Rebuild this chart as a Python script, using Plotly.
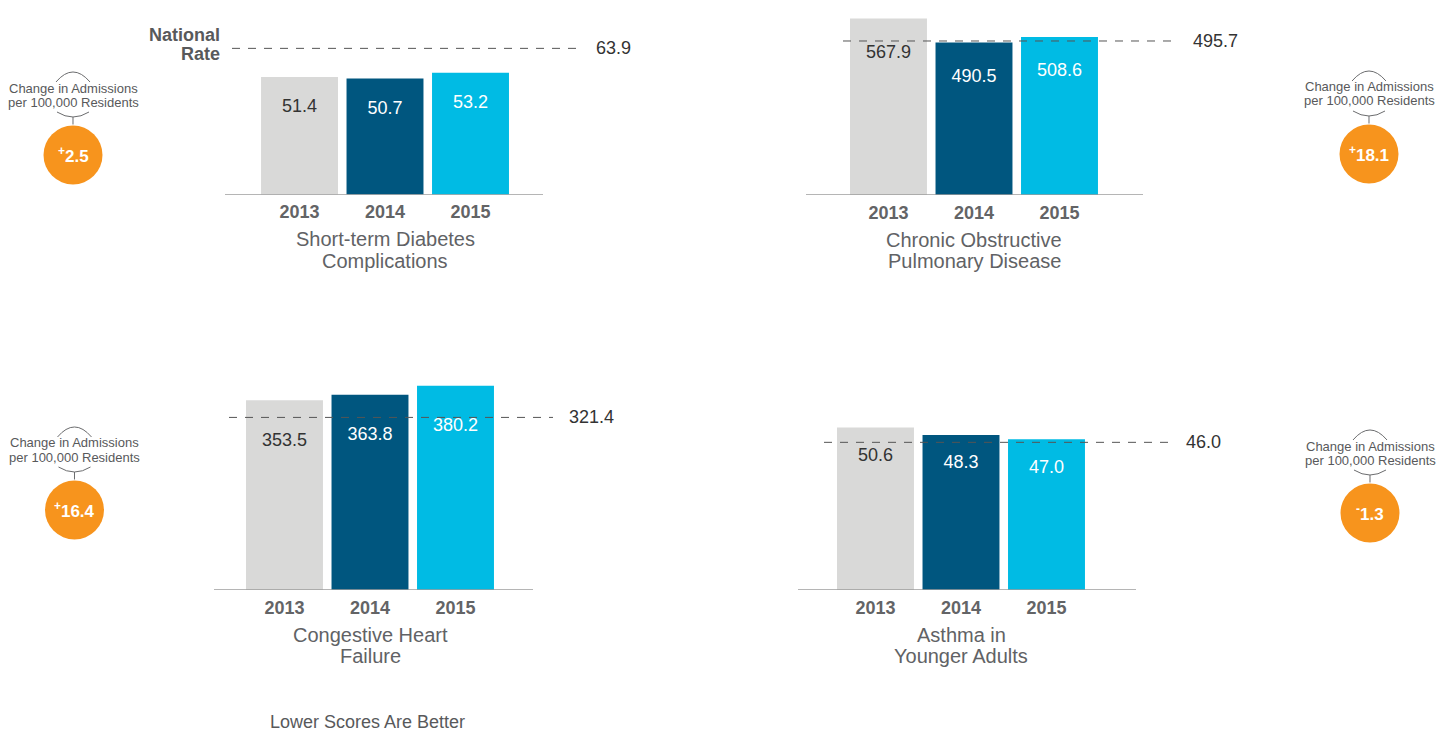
import plotly.graph_objects as go

# ---- data -------------------------------------------------------------
years = ["2013", "2014", "2015"]
measure_titles = [
    ("Short-term Diabetes", "Complications"),
    ("Chronic Obstructive", "Pulmonary Disease"),
    ("Congestive Heart", "Failure"),
    ("Asthma in", "Younger Adults"),
]
rates_diabetes = [51.4, 50.7, 53.2]
rates_copd = [567.9, 490.5, 508.6]
rates_chf = [353.5, 363.8, 380.2]
rates_asthma = [50.6, 48.3, 47.0]
national_rates = [63.9, 495.7, 321.4, 46.0]
series = [rates_diabetes, rates_copd, rates_chf, rates_asthma]

# ---- styling -----------------------------------------------------------
W, H = 1444, 732
FONT = "Liberation Sans, Arial, Helvetica, sans-serif"
BAR_COLORS = ["#d9d9d8", "#00567f", "#00bbe4"]
VALUE_COLORS = ["#333333", "#ffffff", "#ffffff"]
TEXT_GRAY = "#58595b"
YEAR_GRAY = "#636466"
TITLE_GRAY = "#616265"
ORANGE = "#f7941d"
STEP = 85.5  # pixels between bar centres

# panel geometry in pixels: centre of first bar, baseline, pixels per unit,
# baseline extent, national-rate line extent, label offset, badge centre
panels = [
    dict(c0=299.5, base=194.7, scale=2.29, axis=(225, 543), dash=(232, 580),
         top=2, text_off=31, badge=(73, 155)),
    dict(c0=888.5, base=195.0, scale=0.3107, axis=(806, 1143), dash=(843, 1177),
         top=2, text_off=35, badge=(1369, 154)),
    dict(c0=284.5, base=590.0, scale=0.537, axis=(214, 533), dash=(229, 553),
         top=330, text_off=41, badge=(74.5, 510)),
    dict(c0=875.5, base=590.0, scale=3.21, axis=(798, 1136), dash=(824, 1170),
         top=330, text_off=29, badge=(1370, 513)),
]


def px_x(x):
    return x / W


def px_y(y):
    return 1 - y / H


fig = go.Figure()
layout = dict(
    width=W, height=H, margin=dict(l=0, r=0, t=0, b=0),
    paper_bgcolor="white", plot_bgcolor="white", showlegend=False,
    font=dict(family=FONT, color=TEXT_GRAY, size=14),
)
shapes, annotations = [], []

for i, (p, vals, nat, title) in enumerate(zip(panels, series, national_rates, measure_titles)):
    k = "" if i == 0 else str(i + 1)
    xref, yref = "x" + k, "y" + k
    L, R = p["axis"][0], p["dash"][1] + 80
    to_x = lambda px, p=p: (px - p["c0"]) / STEP

    layout["xaxis" + k] = dict(
        domain=[px_x(L), px_x(R)], range=[to_x(L), to_x(R)], anchor=yref,
        tickmode="array", tickvals=[0, 1, 2], ticktext=years,
        tickfont=dict(size=18, color=YEAR_GRAY, family=FONT, weight="bold"),
        showgrid=False, zeroline=False, showline=False,
        ticks="outside", ticklen=1, tickcolor="rgba(0,0,0,0)",
        fixedrange=True,
    )
    layout["yaxis" + k] = dict(
        domain=[px_y(p["base"]), px_y(p["top"])],
        range=[0, (p["base"] - p["top"]) / p["scale"]], anchor=xref,
        visible=False, fixedrange=True,
    )

    fig.add_trace(go.Bar(
        x=[0, 1, 2], y=vals, width=0.9, marker=dict(color=BAR_COLORS, line_width=0),
        xaxis=xref, yaxis=yref, hoverinfo="skip",
    ))
    fig.add_trace(go.Scatter(
        x=[0, 1, 2], y=[v - p["text_off"] / p["scale"] for v in vals],
        mode="text", text=[f"{v:.1f}" for v in vals],
        textfont=dict(size=18, color=VALUE_COLORS, family=FONT),
        xaxis=xref, yaxis=yref, hoverinfo="skip",
    ))
    # national rate reference line
    xs, xe = to_x(p["dash"][0]), to_x(p["dash"][1])
    fig.add_trace(go.Scatter(
        x=[xs, xe], y=[nat, nat], mode="lines",
        line=dict(color="#555555", width=1, dash="8px,8px"),
        xaxis=xref, yaxis=yref, hoverinfo="skip",
    ))
    annotations.append(dict(
        x=xe, y=nat, xref=xref, yref=yref, text=f"{nat:.1f}", showarrow=False,
        xanchor="left", yanchor="middle", xshift=14,
        font=dict(size=18, color="#333333", family=FONT),
    ))
    # baseline
    shapes.append(dict(
        type="line", xref=xref, yref=yref, x0=to_x(p["axis"][0]), x1=to_x(p["axis"][1]),
        y0=0, y1=0, line=dict(color="#9c9c9c", width=1.5), layer="above",
    ))
    # measure title under the axis, centred on the middle bar
    mid_px = p["c0"] + STEP
    for j, line in enumerate(title):
        annotations.append(dict(
            x=px_x(mid_px), xref="paper", y=px_y(p["base"] + 44.5 + 21.5 * j), yref="paper",
            text=line, showarrow=False, xanchor="center", yanchor="middle",
            font=dict(size=20, color=TITLE_GRAY, family=FONT),
        ))

    # change badge (2015 vs 2014)
    change = round(vals[2] - vals[1], 1)
    sign = "+" if change >= 0 else "-"
    cx, cy = p["badge"]
    r = 29.5
    shapes.append(dict(
        type="circle", xref="paper", yref="paper",
        x0=px_x(cx - r), x1=px_x(cx + r), y0=px_y(cy + r), y1=px_y(cy - r),
        fillcolor=ORANGE, line_width=0,
    ))
    annotations.append(dict(
        x=px_x(cx), y=px_y(cy), xref="paper", yref="paper",
        text=f"<sup>{sign}</sup>{abs(change):.1f}", showarrow=False,
        xanchor="center", yanchor="middle",
        font=dict(size=17, color="white", family=FONT, weight="bold"),
    ))
    for txt, dy in (("Change in Admissions", -67), ("per 100,000 Residents", -53)):
        annotations.append(dict(
            x=px_x(cx), y=px_y(cy + dy), xref="paper", yref="paper", text=txt,
            showarrow=False, xanchor="center", yanchor="middle",
            font=dict(size=13, color=TEXT_GRAY, family=FONT),
        ))

    def pt(x, y):
        return f"{px_x(x):.5f},{px_y(y):.5f}"

    arc_path = (
        f"M{pt(cx - 17, cy - 73)} Q{pt(cx, cy - 93)} {pt(cx + 17, cy - 73)} "
        f"M{pt(cx - 16, cy - 43)} Q{pt(cx, cy - 33)} {pt(cx + 16, cy - 43)} "
        f"M{pt(cx, cy - 38)} L{pt(cx, cy - 30.5)}"
    )
    shapes.append(dict(
        type="path", xref="paper", yref="paper", path=arc_path,
        line=dict(color="#6b6c6e", width=1),
    ))

# legend-style label for the national rate line
for txt, dy in (("National", 13), ("Rate", -6)):
    annotations.append(dict(
        x=px_x(222), y=national_rates[0], xref="paper", yref="y", yshift=dy,
        text=txt, showarrow=False, xanchor="right", yanchor="middle",
        font=dict(size=18, color=TEXT_GRAY, family=FONT, weight="bold"),
    ))

annotations.append(dict(
    x=px_x(367), y=px_y(722), xref="paper", yref="paper",
    text="Lower Scores Are Better", showarrow=False,
    xanchor="center", yanchor="middle",
    font=dict(size=18, color=TEXT_GRAY, family=FONT),
))

layout["shapes"] = shapes
layout["annotations"] = annotations
fig.update_layout(**layout)
fig.write_html("out.html")
